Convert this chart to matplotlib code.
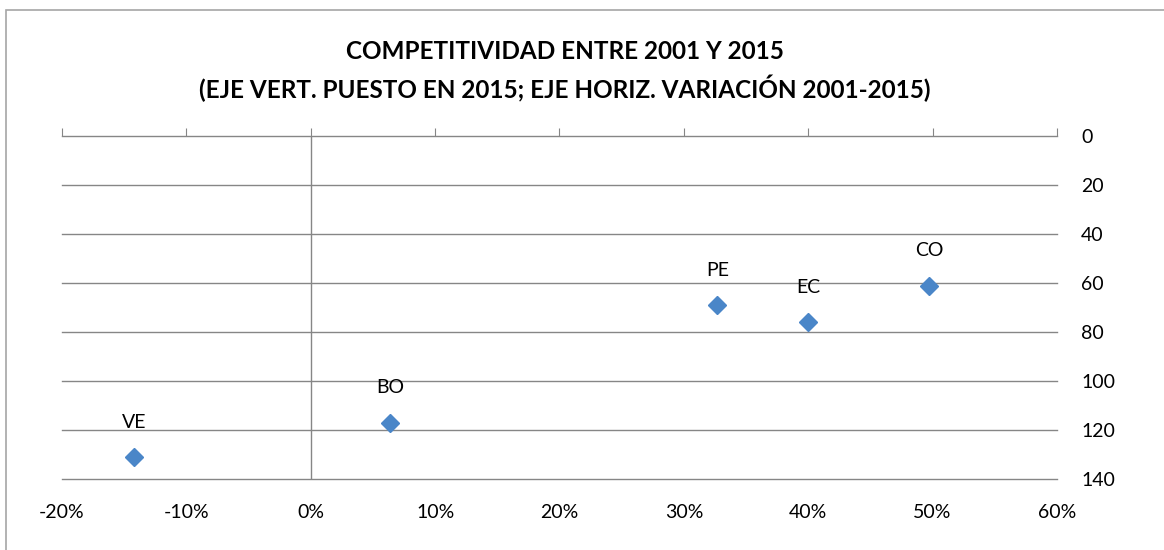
import matplotlib.pyplot as plt
from matplotlib.patches import Rectangle
from matplotlib.ticker import FuncFormatter

plt.rcParams['font.family'] = ['Lato', 'DejaVu Sans']

# data: variation 2001-2015 (%), rank in 2015
countries = ['VE', 'BO', 'PE', 'EC', 'CO']
variacion = [-14.2, 6.4, 32.7, 40.0, 49.7]
puesto = [131, 117, 69, 76, 61]

grey = '#868686'
blue = '#4a86c8'

fig = plt.figure(figsize=(11.64, 5.5), dpi=100)
ax = fig.add_axes([0.0533, 0.129, 0.8547, 0.6236])

ax.plot(variacion, puesto, linestyle='none', marker='D', markersize=9.5,
        color=blue, zorder=3, clip_on=False)
for c, x, y in zip(countries, variacion, puesto):
    ax.annotate(c, (x, y), xytext=(0, 25), textcoords='offset points',
                ha='center', va='center', fontsize=14)

ax.set_xlim(-20, 60)
ax.set_ylim(140, 0)
ax.set_xticks(range(-20, 61, 10))
ax.set_yticks(range(0, 141, 20))
ax.xaxis.set_major_formatter(FuncFormatter(lambda v, p: f'{v:.0f}%'))

# horizontal gridlines and vertical axis at 0%
for yv in range(20, 141, 20):
    ax.axhline(yv, color=grey, linewidth=1, zorder=1, clip_on=False)
ax.axvline(0, color=grey, linewidth=1, zorder=1)

for s in ['left', 'right', 'bottom']:
    ax.spines[s].set_visible(False)
ax.spines['top'].set_color(grey)
ax.spines['top'].set_linewidth(1)

ax.tick_params(axis='x', top=True, bottom=False, labeltop=False, labelbottom=True,
               direction='out', length=6, color=grey, labelsize=14, pad=12)
ax.tick_params(axis='y', left=False, right=False, labelleft=False, labelright=True,
               labelsize=14, pad=14)
for lab in ax.get_yticklabels():
    lab.set_horizontalalignment('left')

fig.text(0.485, 0.907, 'COMPETITIVIDAD ENTRE 2001 Y 2015', ha='center', va='center',
         fontsize=17.5, fontweight='bold')
fig.text(0.485, 0.84, '(EJE VERT. PUESTO EN 2015; EJE HORIZ. VARIACIÓN 2001-2015)',
         ha='center', va='center', fontsize=17.5, fontweight='bold')

# chart area border
fig.patches.append(Rectangle((6 / 1164, -0.05), 1.2, 1 - 10 / 550 + 0.05,
                             transform=fig.transFigure, fill=False,
                             edgecolor='#a6a6a6', linewidth=1.2))

fig.savefig('out.png', dpi=100)
